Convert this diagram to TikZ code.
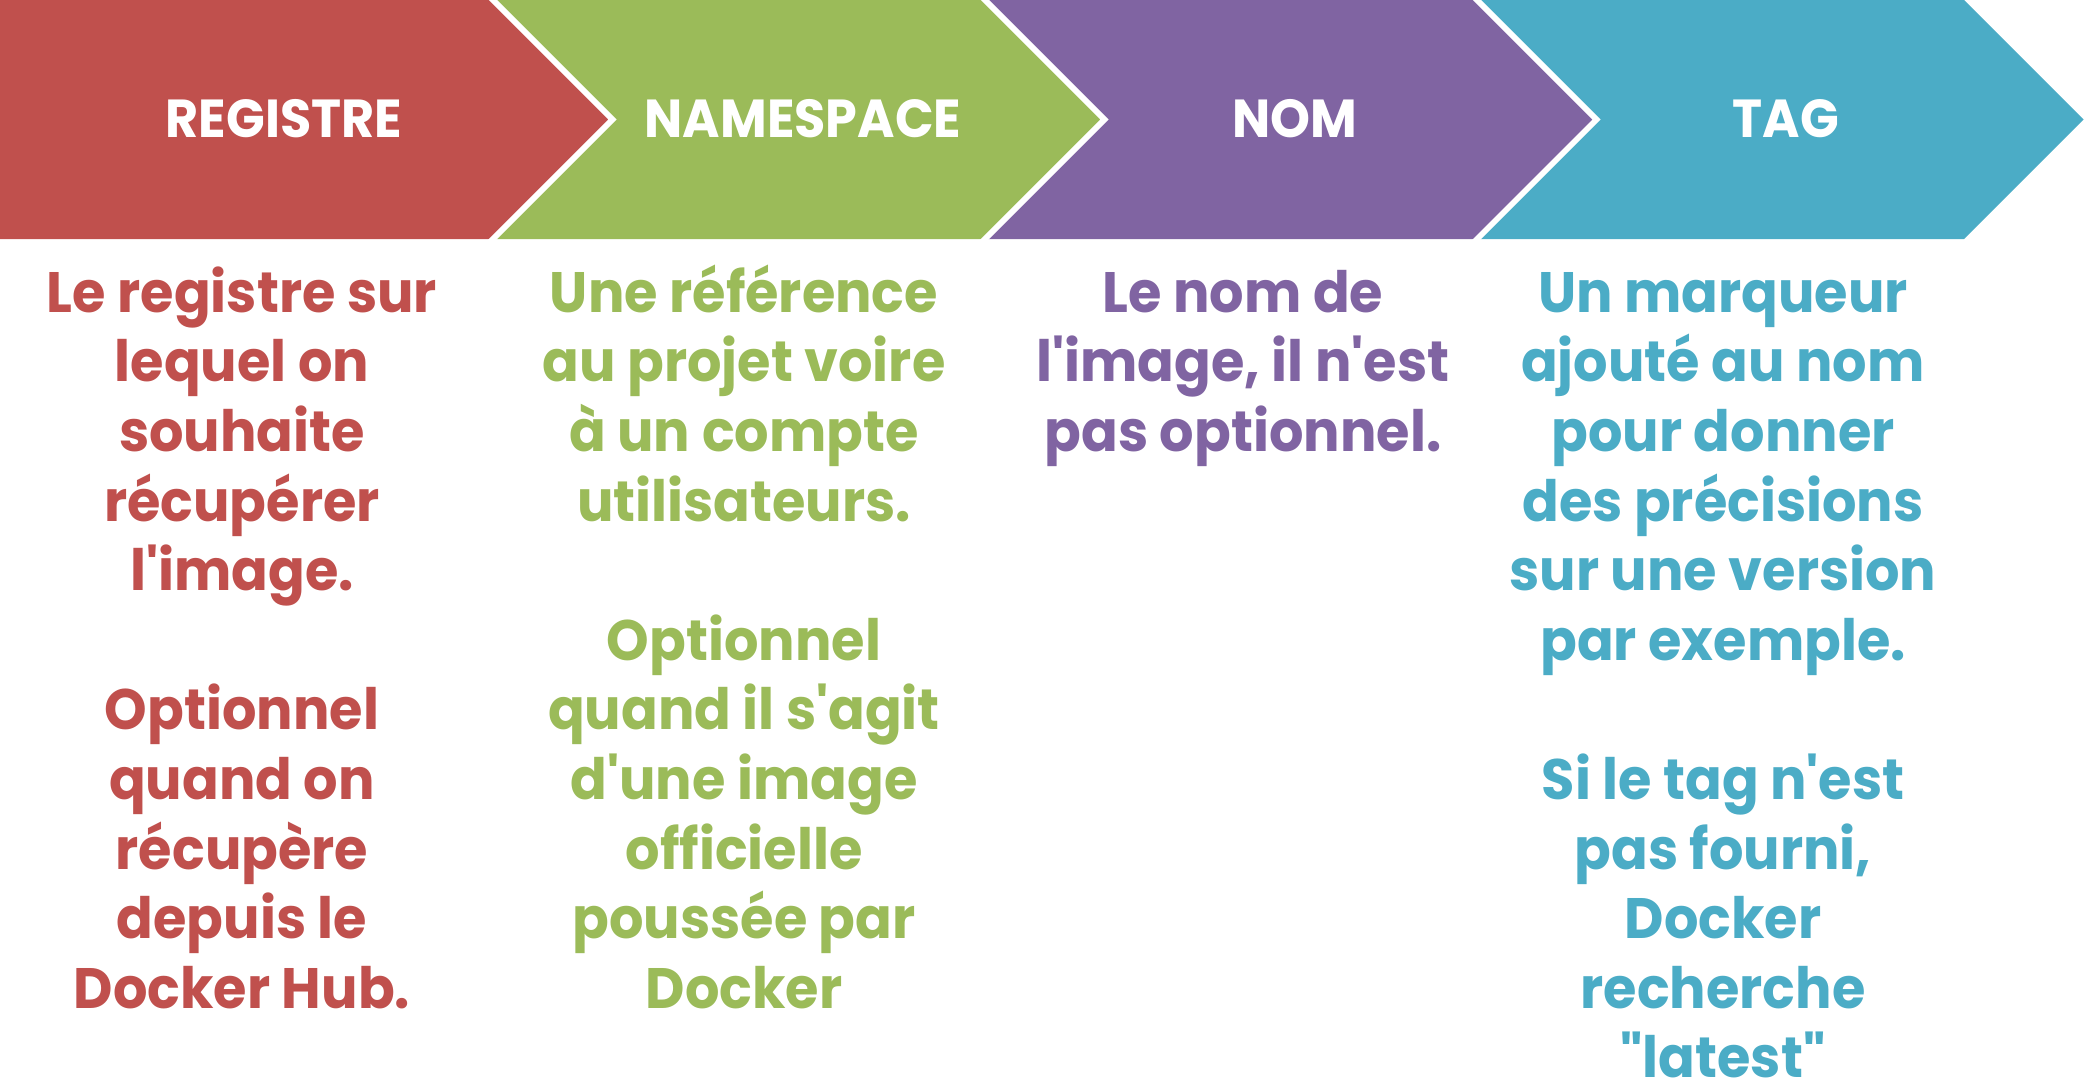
\documentclass[tikz,border=0pt]{standalone}
\usepackage{fontspec}
\setmainfont{Poppins}[Ligatures=TeXOff, FakeStretch=0.95]
\definecolor{cred}{HTML}{C0504D}
\definecolor{cgreen}{HTML}{9BBB59}
\definecolor{cpurple}{HTML}{8064A2}
\definecolor{cteal}{HTML}{4BACC6}
\tikzset{
  headtxt/.style={text=white, inner sep=0pt, anchor=base, font=\bfseries\fontsize{53.5}{60}\selectfont},
  bodytxt/.style={inner sep=0pt, anchor=base, align=center, font=\bfseries\fontsize{57}{69.6}\selectfont},
  sep/.style={white, line width=5.7pt, miter limit=10}
}
\begin{document}
\begin{tikzpicture}[x=1pt,y=-1pt]
\useasboundingbox (0,0) rectangle (2084,1080);
% chevrons
\fill[cred] (0,0) -- (493,0) -- (612.5,119.5) -- (493,239) -- (0,239) -- cycle;
\fill[cgreen] (493,0) -- (985,0) -- (1104.5,119.5) -- (985,239) -- (493,239) -- (612.5,119.5) -- cycle;
\fill[cpurple] (985,0) -- (1477,0) -- (1596.5,119.5) -- (1477,239) -- (985,239) -- (1104.5,119.5) -- cycle;
\fill[cteal] (1477,0) -- (1964,0) -- (2083.5,119.5) -- (1964,239) -- (1477,239) -- (1596.5,119.5) -- cycle;
\begin{scope}
  \clip (0,0) rectangle (2084,239);
  \foreach \bx in {493,985,1477}{
    \draw[sep] (\bx-20,-20) -- (\bx+119.5,119.5) -- (\bx-20,259);
  }
\end{scope}
% headers
\node[headtxt] (hreg) at (284,137.7) {REGISTRE};
\node[headtxt] (hns) at (803,137.7) {NAMESPACE};
\node[headtxt] (hnom) at (1295,137.7) {NOM};
\node[headtxt] (htag) at (1786,137.7) {TAG};
% bodies (anchor=base is the baseline of the last line)
\node[bodytxt, text=cred] (treg) at (242,1008.3) {Le registre sur\\lequel on\\souhaite\\récupérer\\l'image.\\[69.6pt]Optionnel\\quand on\\récupère\\depuis le\\Docker Hub.};
\node[bodytxt, text=cgreen] (tns) at (744,1008.3) {Une référence\\au projet voire\\à un compte\\utilisateurs.\\[69.6pt]Optionnel\\quand il s'agit\\d'une image\\officielle\\poussée par\\Docker};
\node[bodytxt, text=cpurple] (tnom) at (1243,451.5) {Le nom de\\l'image, il n'est\\pas optionnel.};
\node[bodytxt, text=cteal] (ttag) at (1723,1077.9) {Un marqueur\\ajouté au nom\\pour donner\\des précisions\\sur une version\\par exemple.\\[69.6pt]Si le tag n'est\\pas fourni,\\Docker\\recherche\\"latest"};
\end{tikzpicture}
\end{document}
